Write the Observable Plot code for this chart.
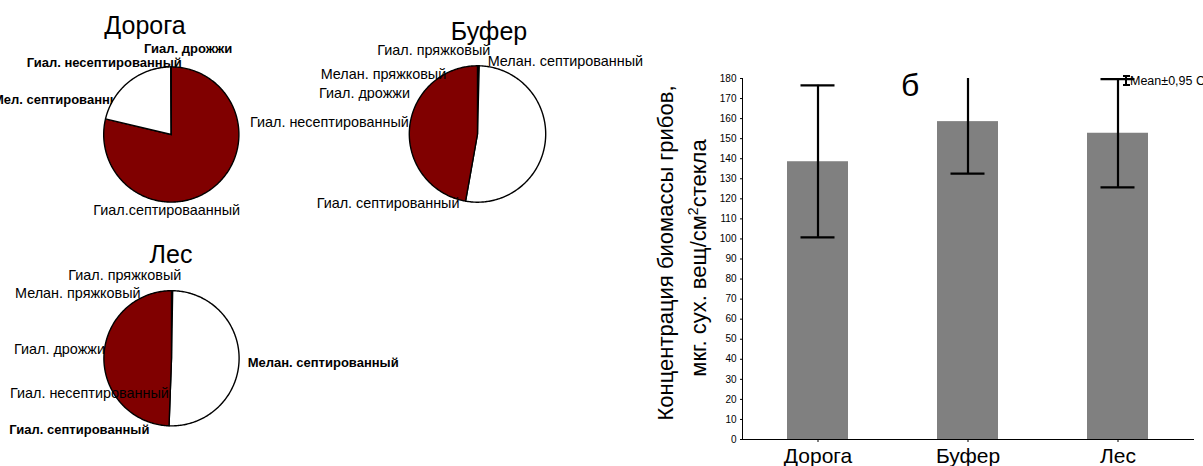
<!DOCTYPE html>
<html>
<head>
<meta charset="utf-8">
<script src="https://cdn.jsdelivr.net/npm/d3@7"></script>
<script src="https://cdn.jsdelivr.net/npm/@observablehq/plot@0.6"></script>
<style>
  html, body { margin: 0; padding: 0; background: #fff; }
  #root { position: relative; width: 1203px; height: 466px; overflow: hidden; background: #fff;
          font-family: "Liberation Sans", Arial, sans-serif; color: #000; }
  .lbl { position: absolute; white-space: nowrap; font-family: "Liberation Sans", Arial, sans-serif; }
  .abs { position: absolute; }
  #bars [aria-label^="x-axis"] text { font-size: 21px; }
  #bars [aria-label^="y-axis"] text { font-size: 10px; }
</style>
</head>
<body>
<div id="root"></div>
<script>
// ---------------- DATA ----------------
// Pie charts (shares of biomass, %), slices in clockwise order from 12 o'clock
const pieTitles = ["Дорога", "Буфер", "Лес"];

const roadGroups = ["Гиал. септированный", "Мелан. септированный", "Гиал. несептированный", "Гиал. дрожжи"];
const roadLabels = ["Гиал.септироваанный", "Мел. септированный", "Гиал. несептированный", "Гиал. дрожжи"];
const roadShares = [78.7, 21.2, 0.05, 0.05];

const bufferGroups = ["Гиал. пряжковый", "Мелан. пряжковый", "Гиал. дрожжи", "Гиал. несептированный", "Мелан. септированный", "Гиал. септированный"];
const bufferLabels = ["Гиал. пряжковый", "Мелан. пряжковый", "Гиал. дрожжи", "Гиал. несептированный", "Мелан. септированный", "Гиал. септированный"];
const bufferShares = [0.1, 0.1, 0.1, 0.1, 52.4, 47.2];

const forestGroups = ["Гиал. пряжковый", "Мелан. пряжковый", "Гиал. дрожжи", "Гиал. несептированный", "Мелан. септированный", "Гиал. септированный"];
const forestLabels = ["Гиал. пряжковый", "Мелан. пряжковый", "Гиал. дрожжи", "Гиал. несептированный", "Мелан. септированный", "Гиал. септированный"];
const forestShares = [0.07, 0.07, 0.07, 0.07, 50.3, 49.42];

const pieCategories = ["Гиал. септированный", "Мелан. септированный", "Гиал. несептированный", "Гиал. дрожжи", "Мелан. пряжковый", "Гиал. пряжковый"];
const pieColors = ["#800000", "#ffffff", "#ffffff", "#ffffff", "#ffffff", "#ffffff"];

// Bar chart: mean biomass concentration with 0.95 confidence interval
const sites = ["Дорога", "Буфер", "Лес"];
const means = [138.5, 158.5, 152.7];
const ciLow = [100.8, 132.6, 125.7];
const ciHigh = [176.6, 184.4, 179.7];
const yTicks = [0, 10, 20, 30, 40, 50, 60, 70, 80, 90, 100, 110, 120, 130, 140, 150, 160, 170, 180];
const yMax = 180;

// ---------------- LAYOUT ----------------
const root = document.getElementById("root");
const FONT = '"Liberation Sans", Arial, sans-serif';
const NORMAL_SIZE = 14.4, BOLD_SIZE = 13;

function label(text, left, baseline, size, weight) {
  const s = document.createElement("span");
  s.className = "lbl";
  s.textContent = text;
  s.style.fontSize = size + "px";
  s.style.lineHeight = size + "px";
  s.style.fontWeight = weight || "normal";
  s.style.left = left + "px";
  s.style.top = (baseline - 0.8465 * size) + "px";
  return s;
}
function centered(text, cx, baseline, size) {
  const s = label(text, cx, baseline, size, "normal");
  s.style.transform = "translateX(-50%)";
  return s;
}

// pies geometry (layout)
const pieLayout = [
  {cx: 171.3, cy: 134.5, r: 67.6, titleX: 145, titleY: 34.5},
  {cx: 477.5, cy: 134.0, r: 68.2, titleX: 489, titleY: 40.5},
  {cx: 171.5, cy: 358.3, r: 67.6, titleX: 171, titleY: 263.5}
];
// label placements (layout): [left, baseline, bold, under-pie]
const labelLayout = [
  [[93.3, 215, false, false], [-7, 104, true, true], [26.7, 66.8, true, true], [144, 52.8, true, true]],
  [[377.3, 55.5, false, false], [320.7, 79, false, false], [319, 98.3, false, false], [250, 127.5, false, false], [487.7, 66, false, false], [316.7, 208.5, false, false]],
  [[68.3, 280, false, false], [15, 298.3, false, false], [14, 354, false, false], [10, 398.5, false, false], [247.7, 367, true, false], [9.3, 434, true, false]]
];

const pies = [
  {groups: roadGroups, labels: roadLabels, shares: roadShares},
  {groups: bufferGroups, labels: bufferLabels, shares: bufferShares},
  {groups: forestGroups, labels: forestLabels, shares: forestShares}
];

// labels under the pies
pies.forEach((p, pi) => {
  p.labels.forEach((t, i) => {
    const [l, b, bold, under] = labelLayout[pi][i];
    if (under) root.appendChild(label(t, l, b, bold ? BOLD_SIZE : NORMAL_SIZE, bold ? "bold" : "normal"));
  });
});

// slice outlines from the shares
const rows = [];
pies.forEach((p, pi) => {
  const {cx, cy, r} = pieLayout[pi];
  const arcs = d3.pie().sort(null).value(d => d)(p.shares);
  arcs.forEach((a, i) => {
    const n = Math.max(2, Math.ceil((a.endAngle - a.startAngle) / (Math.PI / 180)));
    for (let k = 0; k <= n; k++) {
      const ang = a.startAngle + (a.endAngle - a.startAngle) * k / n;
      rows.push({id: pi + "-" + i, group: p.groups[i], x1: cx, y1: cy,
                 x2: cx + r * Math.sin(ang), y2: cy - r * Math.cos(ang)});
    }
  });
});

const piePlot = Plot.plot({
  width: 640, height: 466,
  margin: 0,
  style: {background: "transparent", overflow: "visible"},
  x: {domain: [0, 640], range: [0, 640], axis: null},
  y: {domain: [0, 466], range: [0, 466], axis: null},
  color: {type: "ordinal", domain: pieCategories, range: pieColors},
  marks: [
    Plot.area(rows, {x1: "x1", y1: "y1", x2: "x2", y2: "y2", z: "id", fill: "group",
                     stroke: "#000", strokeWidth: 1.4, strokeLinejoin: "round", curve: "linear"})
  ]
});
piePlot.classList.add("abs");
piePlot.style.left = "0px";
piePlot.style.top = "0px";
root.appendChild(piePlot);

// titles and labels above the pies
pieTitles.forEach((t, i) => root.appendChild(centered(t, pieLayout[i].titleX, pieLayout[i].titleY, 25)));
pies.forEach((p, pi) => {
  p.labels.forEach((t, i) => {
    const [l, b, bold, under] = labelLayout[pi][i];
    if (!under) root.appendChild(label(t, l, b, bold ? BOLD_SIZE : NORMAL_SIZE, bold ? "bold" : "normal"));
  });
});

// ---------------- BAR CHART ----------------
const barData = sites.map((s, i) => ({site: s, mean: means[i], lo: ciLow[i], hi: ciHigh[i]}));

const barPlot = Plot.plot({
  width: 563, height: 466,
  marginLeft: 102, marginRight: 10, marginTop: 78, marginBottom: 27,
  style: {background: "transparent", fontFamily: FONT, color: "#000", overflow: "visible"},
  x: {domain: sites, paddingInner: 0.594, paddingOuter: 0.297, label: null, tickSize: 3, tickPadding: 6, line: true},
  y: {domain: [0, yMax], ticks: yTicks, label: null, tickSize: 2, tickPadding: 4, line: true},
  marks: [
    Plot.barY(barData, {x: "site", y: "mean", fill: "#808080"}),
    Plot.ruleX(barData, {x: "site", y1: "lo", y2: d => Math.min(d.hi, yMax), stroke: "#000", strokeWidth: 2.2}),
    Plot.tickY(barData, {x: "site", y: "lo", stroke: "#000", strokeWidth: 2.2, insetLeft: 13.5, insetRight: 13.5}),
    Plot.tickY(barData.filter(d => d.hi <= yMax), {x: "site", y: "hi", stroke: "#000", strokeWidth: 2.2, insetLeft: 13.5, insetRight: 13.5})
  ]
});
const barWrap = document.createElement("div");
barWrap.id = "bars";
barWrap.className = "abs";
barWrap.style.left = "640px";
barWrap.style.top = "0px";
barWrap.appendChild(barPlot);
root.appendChild(barWrap);

// y-axis title (two rotated lines)
function rotLine(html, cx, cy, size) {
  const d = document.createElement("div");
  d.className = "lbl";
  d.innerHTML = html;
  d.style.fontSize = size + "px";
  d.style.lineHeight = size + "px";
  d.style.width = "420px";
  d.style.textAlign = "center";
  d.style.left = (cx - 210) + "px";
  d.style.top = (cy - size / 2) + "px";
  d.style.transform = "rotate(-90deg)";
  return d;
}
root.appendChild(rotLine("Концентрация биомассы грибов,", 666, 253, 22));
root.appendChild(rotLine('мкг. сух. вещ/см<sup style="font-size:14px;line-height:0;vertical-align:0.55em">2</sup>стекла', 698.5, 258, 22));

// panel letter
root.appendChild(label("б", 901, 96.5, 32, "normal"));

// legend: whisker icon + text
const icon = document.createElement("div");
icon.className = "abs";
icon.style.left = "1122.5px"; icon.style.top = "75px";
icon.style.width = "7px"; icon.style.height = "11px";
icon.style.borderTop = "2px solid #000"; icon.style.borderBottom = "2px solid #000";
icon.style.boxSizing = "border-box";
const stem = document.createElement("div");
stem.className = "abs";
stem.style.left = "2.5px"; stem.style.top = "0px"; stem.style.width = "2px"; stem.style.height = "7px";
stem.style.background = "#000";
icon.appendChild(stem);
root.appendChild(icon);
root.appendChild(label("Mean±0,95 Conf. Interval", 1130, 86, 12.5, "normal"));
</script>
</body>
</html>
